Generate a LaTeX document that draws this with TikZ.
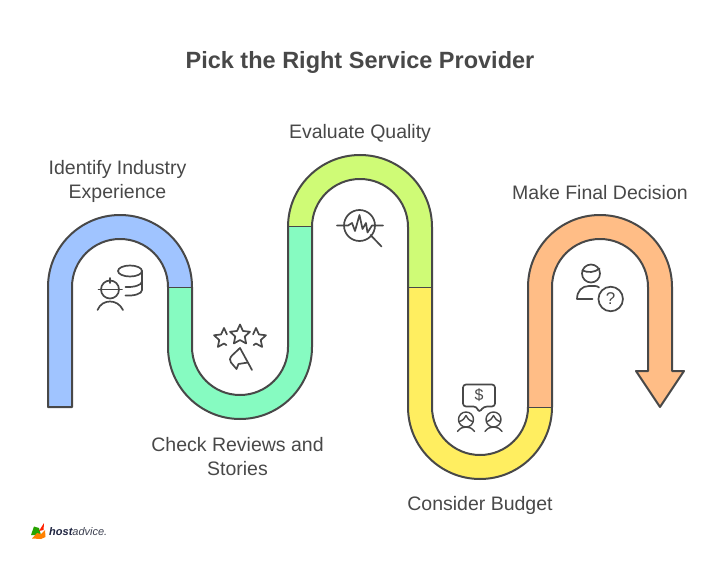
\documentclass[tikz,border=0pt]{standalone}
\usepackage{fontspec}
\setmainfont{Liberation Sans}
\usetikzlibrary{shapes.geometric}
\definecolor{inkgray}{HTML}{484848}
\definecolor{bandblue}{HTML}{A0C4FF}
\definecolor{bandgreen}{HTML}{86FBC1}
\definecolor{bandlime}{HTML}{CFFB76}
\definecolor{bandyellow}{HTML}{FFEE60}
\definecolor{bandorange}{HTML}{FFBD86}
\tikzset{
  title/.style={text=inkgray,font=\fontsize{23.5}{28}\selectfont\bfseries,inner sep=0pt},
  label/.style={text=inkgray,font=\fontsize{19.5}{24}\selectfont,align=center,inner sep=0pt},
  outline/.style={draw=inkgray,line width=2pt,line join=round},
  joint/.style={draw=inkgray,line width=1pt},
  icon/.style={draw=inkgray,line width=1.7pt,line cap=round,line join=round}
}

\begin{document}
\begin{tikzpicture}[x=1pt,y=1pt,yscale=-1]

    \useasboundingbox (0,0) rectangle (720,564);

    % title and labels
    \node[title] (Title) at (360,62) {Pick the Right Service Provider};
    \node[label] (Identify) at (117.5,181) {Identify Industry\\Experience};
    \node[label] (Evaluate) at (360,133.5) {Evaluate Quality};
    \node[label] (Decision) at (600,193) {Make Final Decision};
    \node[label] (Reviews) at (237.5,457) {Check Reviews and\\Stories};
    \node[label] (Budget) at (480,505) {Consider Budget};

    % bands
    \fill[bandblue] (48,407) -- (48,287) arc (180:360:72) -- (168,287)
      arc (360:180:48) -- (72,407) -- cycle;
    \fill[bandgreen] (192,287) -- (192,347) arc (180:0:48) -- (288,227) -- (312,227)
      -- (312,347) arc (0:180:72) -- (168,287) -- cycle;
    \fill[bandlime] (288,227) arc (180:360:72) -- (432,287) -- (408,287) -- (408,227)
      arc (360:180:48) -- cycle;
    \fill[bandyellow] (432,287) -- (432,407) arc (180:0:48) -- (552,407)
      arc (0:180:72) -- (408,287) -- cycle;
    \fill[bandorange] (528,407) -- (528,287) arc (180:360:72) -- (672,371) -- (684,371)
      -- (660,407) -- (636,371) -- (648,371) -- (648,287) arc (360:180:48)
      -- (552,407) -- cycle;

    \draw[joint] (168,287) -- (192,287);
    \draw[joint] (288,227) -- (312,227);
    \draw[joint] (408,287) -- (432,287);
    \draw[joint] (528,407) -- (552,407);

    \draw[outline] (48,407) -- (48,287) arc (180:360:72) -- (192,347) arc (180:0:48)
      -- (288,227) arc (180:360:72) -- (432,407) arc (180:0:48)
      -- (528,287) arc (180:360:72) -- (672,371) -- (684,371) -- (660,407)
      -- (636,371) -- (648,371) -- (648,287) arc (360:180:48)
      -- (552,407) arc (0:180:72) -- (408,227) arc (360:180:48)
      -- (312,347) arc (0:180:72) -- (168,287) arc (360:180:48)
      -- (72,407) -- cycle;

    % worker and database
    \draw[icon] (110,289.5) circle (9);
    \draw[icon] (98.5,289.5) -- (122,289.5);
    \draw[icon] (110,278) -- (110,283);
    \draw[icon] (97.5,310) .. controls (100,304) and (105,301.5) .. (110,301.5)
      .. controls (115,301.5) and (120,304) .. (123,310);
    \draw[icon] (130,271) ellipse (12 and 5.5);
    \draw[icon] (142,271) -- (142,290) .. controls (142,294) and (134,296) .. (125.5,295.5);
    \draw[icon] (142,281.5) .. controls (142,285) and (134,287.5) .. (125.5,287);

    % stars and flag
    \node[star,star points=5,star point ratio=2.1,draw=inkgray,line width=1.7pt,
      line join=round,minimum size=21pt,inner sep=0pt] (CenterStar) at (240,335) {};
    \draw[icon,shift={(224,338.5)}] (306:5) -- (270:10.5) -- (234:5) -- (198:10.5) -- (162:5)
      -- (126:10.5) -- (90:5) -- (70:7);
    \draw[icon,shift={(256,338.5)}] (234:5) -- (270:10.5) -- (306:5) -- (342:10.5) -- (18:5)
      -- (54:10.5) -- (90:5) -- (110:7);
    \draw[icon] (240,348) -- (252,370);
    \draw[icon] (240,348) -- (232,355.5) .. controls (229.5,358) and (229.5,361) .. (231,362.5)
      -- (236.5,369) -- (238.5,364) -- (248,362.5);

    % magnifier over signal
    \draw[icon] (359.5,225.5) circle (15.5);
    \draw[icon] (337,225.5) -- (348,225.5) -- (352,223) -- (355,231) -- (359.5,215)
      -- (362.5,229) -- (366,223) -- (367.5,232.5) -- (372,225.5) -- (383,225.5);
    \draw[icon] (370.5,235) -- (381.5,246.5);

    % two people and price bubble
    \draw[icon,rounded corners=3pt] (476.5,406.5) -- (463,406.5) -- (463,384.5) -- (495,384.5)
      -- (495,406.5) -- (484,406.5) -- (479,412.5) -- cycle;
    \node[text=inkgray,font=\fontsize{16}{16}\selectfont,inner sep=0pt] (Dollar) at (479,395.5) {\$};
    \foreach \headx in {466,493.5} {
      \draw[icon,line width=1.4pt] (\headx,419.5) circle (7.5);
      \draw[icon,line width=1.4pt] (\headx-6.5,421.5) .. controls (\headx-3,420.5) and (\headx-1,418) .. (\headx,415.5)
        .. controls (\headx+1,418) and (\headx+3,420.5) .. (\headx+6.5,421.5);
      \draw[icon,line width=1.4pt] (\headx-8.5,431.5) .. controls (\headx-6,428) and (\headx-3,427) .. (\headx,427)
        .. controls (\headx+3,427) and (\headx+6,428) .. (\headx+8.5,431.5);
    }

    % person with question
    \draw[icon] (591,273.5) circle (9);
    \draw[icon] (582.5,270.5) .. controls (588,273) and (595,272.5) .. (599.5,268.5);
    \draw[icon] (592.5,299) -- (577,299) .. controls (577,291) and (582,286) .. (589,286)
      -- (595,286) .. controls (596.5,286) and (598,286.5) .. (599,287.5);
    \node[circle,draw=inkgray,line width=1.7pt,minimum size=24.5pt,inner sep=0pt,
      text=inkgray,font=\fontsize{17}{17}\selectfont] (Question) at (610.7,299) {?};

    % logo
    \fill[green!55!black!80!lime] (31,535) -- (34,526.5) -- (39,528) -- (41,535) -- cycle;
    \fill[orange] (32,538.5) -- (37,533) -- (41,534) -- (45,530) -- (45.5,537) -- (41,539) -- cycle;
    \fill[red!75!orange] (39,531) -- (44,523) -- (43.5,530) -- cycle;
    \node[anchor=base west,inner sep=0pt,font=\fontsize{11}{13}\selectfont\itshape] (Logo) at (49,535.7)
      {\textcolor[HTML]{1E2440}{\textbf{host}}\textcolor[HTML]{3C4050}{advice.}};

  \end{tikzpicture}
\end{document}
